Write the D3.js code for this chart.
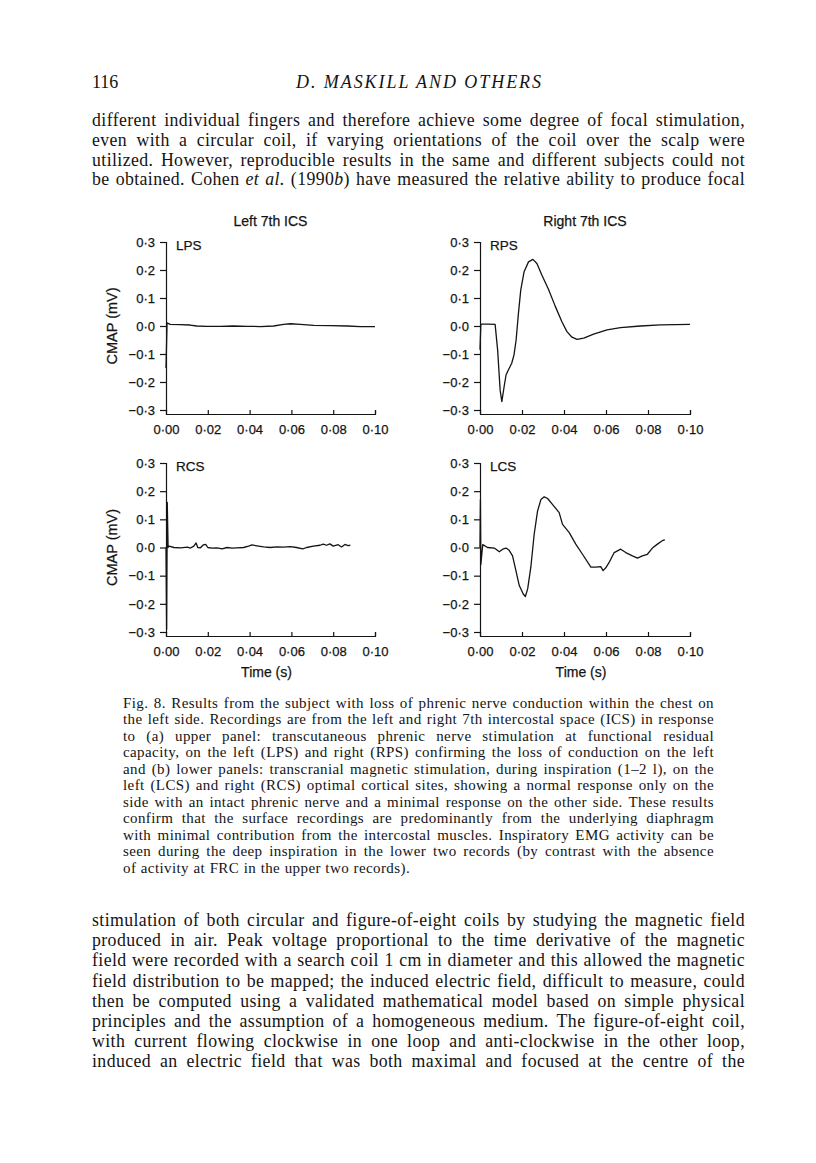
<!DOCTYPE html>
<html>
<head>
<meta charset="utf-8">
<script src="https://cdn.jsdelivr.net/npm/d3@7"></script>
<style>
body { margin: 0; background: #fff; }
svg text { fill: #141414; }
</style>
</head>
<body>
<svg id="page" width="816" height="1163"></svg>
<script>
// axis ticks
var timeTicks = [0, 0.02, 0.04, 0.06, 0.08, 0.10];
var cmapTicks = [-0.3, -0.2, -0.1, 0, 0.1, 0.2, 0.3];

// traces (time in s, CMAP in mV)
var lpsTime = [0, 0.0005, 0.002, 0.0067, 0.0115, 0.0147, 0.0195, 0.026, 0.0323, 0.0387, 0.045, 0.0515, 0.0563, 0.0595, 0.0643, 0.0707, 0.0787, 0.0867, 0.093, 0.1];
var lpsCmap = [-0.15, 0.011, 0.006, 0.005, 0.0035, 0, -0.001, -0.001, 0, -0.001, -0.002, 0, 0.006, 0.008, 0.006, 0.002, 0.001, 0, -0.002, -0.002];

var rpsTime = [0, 0.0004, 0.001, 0.004, 0.0072, 0.0084, 0.0096, 0.0104, 0.0115, 0.0124, 0.0135, 0.0151, 0.0162, 0.0172, 0.0183, 0.0194, 0.021, 0.0231, 0.0252, 0.0271, 0.0295, 0.0326, 0.0358, 0.039, 0.0414, 0.0438, 0.0462, 0.0494, 0.0541, 0.0605, 0.0669, 0.0764, 0.086, 0.1];
var rpsCmap = [-0.085, 0.006, 0.007, 0.007, 0.006, -0.086, -0.23, -0.27, -0.216, -0.175, -0.157, -0.133, -0.103, -0.05, 0.045, 0.128, 0.194, 0.229, 0.238, 0.223, 0.181, 0.131, 0.071, 0.015, -0.02, -0.04, -0.048, -0.043, -0.029, -0.014, -0.006, 0, 0.004, 0.006];

var rcsTime = [0, 0.0003, 0.0006, 0.001, 0.0014, 0.0038, 0.007, 0.0102, 0.0117, 0.0133, 0.0144, 0.0152, 0.0165, 0.0178, 0.019, 0.02, 0.022, 0.0244, 0.0268, 0.0292, 0.0316, 0.034, 0.0371, 0.0395, 0.0411, 0.0435, 0.0467, 0.0498, 0.053, 0.0562, 0.0594, 0.0625, 0.0654, 0.0673, 0.0705, 0.0737, 0.0752, 0.0768, 0.0784, 0.08, 0.0824, 0.084, 0.0856, 0.0871, 0.0882];
var rcsCmap = [0, -0.29, 0.16, 0, 0.005, 0, -0.001, 0.001, -0.002, 0.005, 0.016, 0, -0.001, 0.009, 0.011, 0, -0.002, -0.001, -0.005, 0, -0.002, -0.001, 0, 0.005, 0.009, 0.006, 0.002, 0, 0.002, 0.001, 0.003, 0, -0.005, 0, 0.005, 0.008, 0.012, 0.008, 0.013, 0.005, 0.01, 0.002, 0.011, 0.007, 0.008];

var lcsTime = [0, 0.0002, 0.0004, 0.0013, 0.0036, 0.0068, 0.0092, 0.0108, 0.0124, 0.0139, 0.0155, 0.0171, 0.0187, 0.0206, 0.0216, 0.0227, 0.0242, 0.0258, 0.0274, 0.029, 0.0306, 0.0322, 0.0345, 0.0377, 0.0393, 0.0425, 0.0456, 0.0488, 0.0528, 0.0552, 0.0575, 0.0586, 0.0599, 0.0615, 0.0639, 0.067, 0.0694, 0.0726, 0.075, 0.0773, 0.0797, 0.0821, 0.0845, 0.0868, 0.088];
var lcsCmap = [0, 0.17, -0.06, 0.01, 0, -0.002, -0.015, -0.006, -0.002, -0.01, -0.03, -0.082, -0.135, -0.165, -0.174, -0.147, -0.07, 0.047, 0.129, 0.17, 0.18, 0.174, 0.153, 0.124, 0.082, 0.053, 0.012, -0.024, -0.07, -0.07, -0.068, -0.082, -0.072, -0.053, -0.018, -0.006, -0.018, -0.03, -0.038, -0.03, -0.024, -0.002, 0.012, 0.024, 0.027];

var columnTitles = ["Left 7th ICS", "Right 7th ICS"];

// page text (*...* = italic)
var runningHead = ["116", "D. MASKILL AND OTHERS"];
var topLines = [
	"different individual fingers and therefore achieve some degree of focal stimulation,",
	"even with a circular coil, if varying orientations of the coil over the scalp were",
	"utilized. However, reproducible results in the same and different subjects could not",
	"be obtained. Cohen *et* *al.* (1990*b*) have measured the relative ability to produce focal"
];
var captionLines = [
	"Fig. 8. Results from the subject with loss of phrenic nerve conduction within the chest on",
	"the left side. Recordings are from the left and right 7th intercostal space (ICS) in response",
	"to (a) upper panel: transcutaneous phrenic nerve stimulation at functional residual",
	"capacity, on the left (LPS) and right (RPS) confirming the loss of conduction on the left",
	"and (b) lower panels: transcranial magnetic stimulation, during inspiration (1\u20132 l), on the",
	"left (LCS) and right (RCS) optimal cortical sites, showing a normal response only on the",
	"side with an intact phrenic nerve and a minimal response on the other side. These results",
	"confirm that the surface recordings are predominantly from the underlying diaphragm",
	"with minimal contribution from the intercostal muscles. Inspiratory EMG activity can be",
	"seen during the deep inspiration in the lower two records (by contrast with the absence",
	"of activity at FRC in the upper two records)."
];
var bottomLines = [
	"stimulation of both circular and figure-of-eight coils by studying the magnetic field",
	"produced in air. Peak voltage proportional to the time derivative of the magnetic",
	"field were recorded with a search coil 1 cm in diameter and this allowed the magnetic",
	"field distribution to be mapped; the induced electric field, difficult to measure, could",
	"then be computed using a validated mathematical model based on simple physical",
	"principles and the assumption of a homogeneous medium. The figure-of-eight coil,",
	"with current flowing clockwise in one loop and anti-clockwise in the other loop,",
	"induced an electric field that was both maximal and focused at the centre of the"
];

var page = d3.select("#page");
var ink = "#141414";
var serif = "'Liberation Serif', 'Times New Roman', serif";
var sans = "'Liberation Sans', Arial, sans-serif";

// ---- text blocks: each line justified word by word ----
function setLine(str, x0, x1, y, size, justify, spacing) {
	var words = str.split(" ");
	var g = page.append("g")
		.attr("font-family", serif)
		.attr("font-size", size)
		.attr("letter-spacing", spacing);
	var nodes = words.map(function(w) {
		var t = g.append("text").attr("y", y);
		w.split("*").forEach(function(seg, i) {
			if (seg) t.append("tspan").attr("font-style", i % 2 ? "italic" : null).text(seg);
		});
		return t;
	});
	var widths = nodes.map(function(t) { return t.node().getComputedTextLength(); });
	var gap = justify ? (x1 - x0 - d3.sum(widths)) / (words.length - 1) : size * 0.3;
	var x = x0;
	nodes.forEach(function(t, i) {
		t.attr("x", x);
		x += widths[i] + gap;
	});
}

page.append("text").attr("x", 92).attr("y", 88)
	.attr("font-family", serif).attr("font-size", 18)
	.text(runningHead[0]);
page.append("text").attr("x", 296).attr("y", 88)
	.attr("font-family", serif).attr("font-size", 18).attr("font-style", "italic")
	.attr("textLength", 245).attr("lengthAdjust", "spacing")
	.text(runningHead[1]);

topLines.forEach(function(s, i) { setLine(s, 92, 745, 126 + i * 19.8, 17.8, true, 0.4); });
captionLines.forEach(function(s, i) {
	setLine(s, 123, 714, 708 + i * 16.45, 15, i < captionLines.length - 1, 0.4);
});
bottomLines.forEach(function(s, i) { setLine(s, 92, 745, 926 + i * 20.2, 17.8, true, 0.4); });

// ---- figure panels ----
var panels = [
	{ name: "LPS", time: lpsTime, cmap: lpsCmap, col: 0, row: 0 },
	{ name: "RPS", time: rpsTime, cmap: rpsCmap, col: 1, row: 0 },
	{ name: "RCS", time: rcsTime, cmap: rcsCmap, col: 0, row: 1 },
	{ name: "LCS", time: lcsTime, cmap: lcsCmap, col: 1, row: 1 }
];
var colX = [[166, 375], [480, 690]];
var rowY = [[410, 242], [632, 463]];
var rowAxis = [414, 636];

var fmtY = function(d) { return d3.format(".1f")(d).replace(".", "\u00b7"); };
var fmtX = function(d) { return d3.format(".2f")(d).replace(".", "\u00b7"); };

panels.forEach(function(p) {
	var x = d3.scaleLinear().domain([0, 0.1]).range(colX[p.col]);
	var y = d3.scaleLinear().domain([-0.3, 0.3]).range(rowY[p.row]);
	var g = page.append("g").attr("font-family", sans);

	var yAxis = g.append("g")
		.attr("transform", "translate(" + x(0) + ",0)")
		.call(d3.axisLeft(y).tickValues(cmapTicks).tickFormat(fmtY).tickSize(6).tickPadding(5));
	var xAxis = g.append("g")
		.attr("transform", "translate(0," + rowAxis[p.row] + ")")
		.call(d3.axisBottom(x).tickValues(timeTicks).tickFormat(fmtX)
			.tickSizeInner(-4).tickSizeOuter(-4).tickPadding(11));

	[yAxis, xAxis].forEach(function(a) {
		a.attr("font-family", sans).attr("font-size", 13);
		a.selectAll("path, line").attr("stroke", ink).attr("stroke-width", 1.2);
		a.selectAll("text").attr("fill", ink).attr("stroke", ink).attr("stroke-width", 0.25);
	});

	var pts = d3.zip(p.time, p.cmap);
	g.append("path")
		.datum(pts)
		.attr("fill", "none")
		.attr("stroke", ink)
		.attr("stroke-width", 1.3)
		.attr("stroke-linejoin", "round")
		.attr("d", d3.line()
			.x(function(d) { return x(d[0]); })
			.y(function(d) { return y(d[1]); }));

	var labels = g.append("g").attr("stroke", ink).attr("stroke-width", 0.25);
	labels.append("text")
		.attr("x", x(0) + 10)
		.attr("y", y(0.3) + 8)
		.attr("font-size", 13.5)
		.text(p.name);

	if (p.row === 0) {
		labels.append("text")
			.attr("x", (colX[p.col][0] + colX[p.col][1]) / 2)
			.attr("y", 226)
			.attr("text-anchor", "middle")
			.attr("font-size", 14)
			.text(columnTitles[p.col]);
	}
	if (p.col === 0) {
		labels.append("text")
			.attr("transform", "translate(117," + (y(0.3) + y(-0.3)) / 2 + ") rotate(-90)")
			.attr("text-anchor", "middle")
			.attr("font-size", 14.5)
			.text("CMAP (mV)");
	}
	if (p.row === 1) {
		labels.append("text")
			.attr("x", (colX[p.col][0] + colX[p.col][1]) / 2 - 4)
			.attr("y", 677)
			.attr("text-anchor", "middle")
			.attr("font-size", 14)
			.text("Time (s)");
	}
});
</script>
</body>
</html>
